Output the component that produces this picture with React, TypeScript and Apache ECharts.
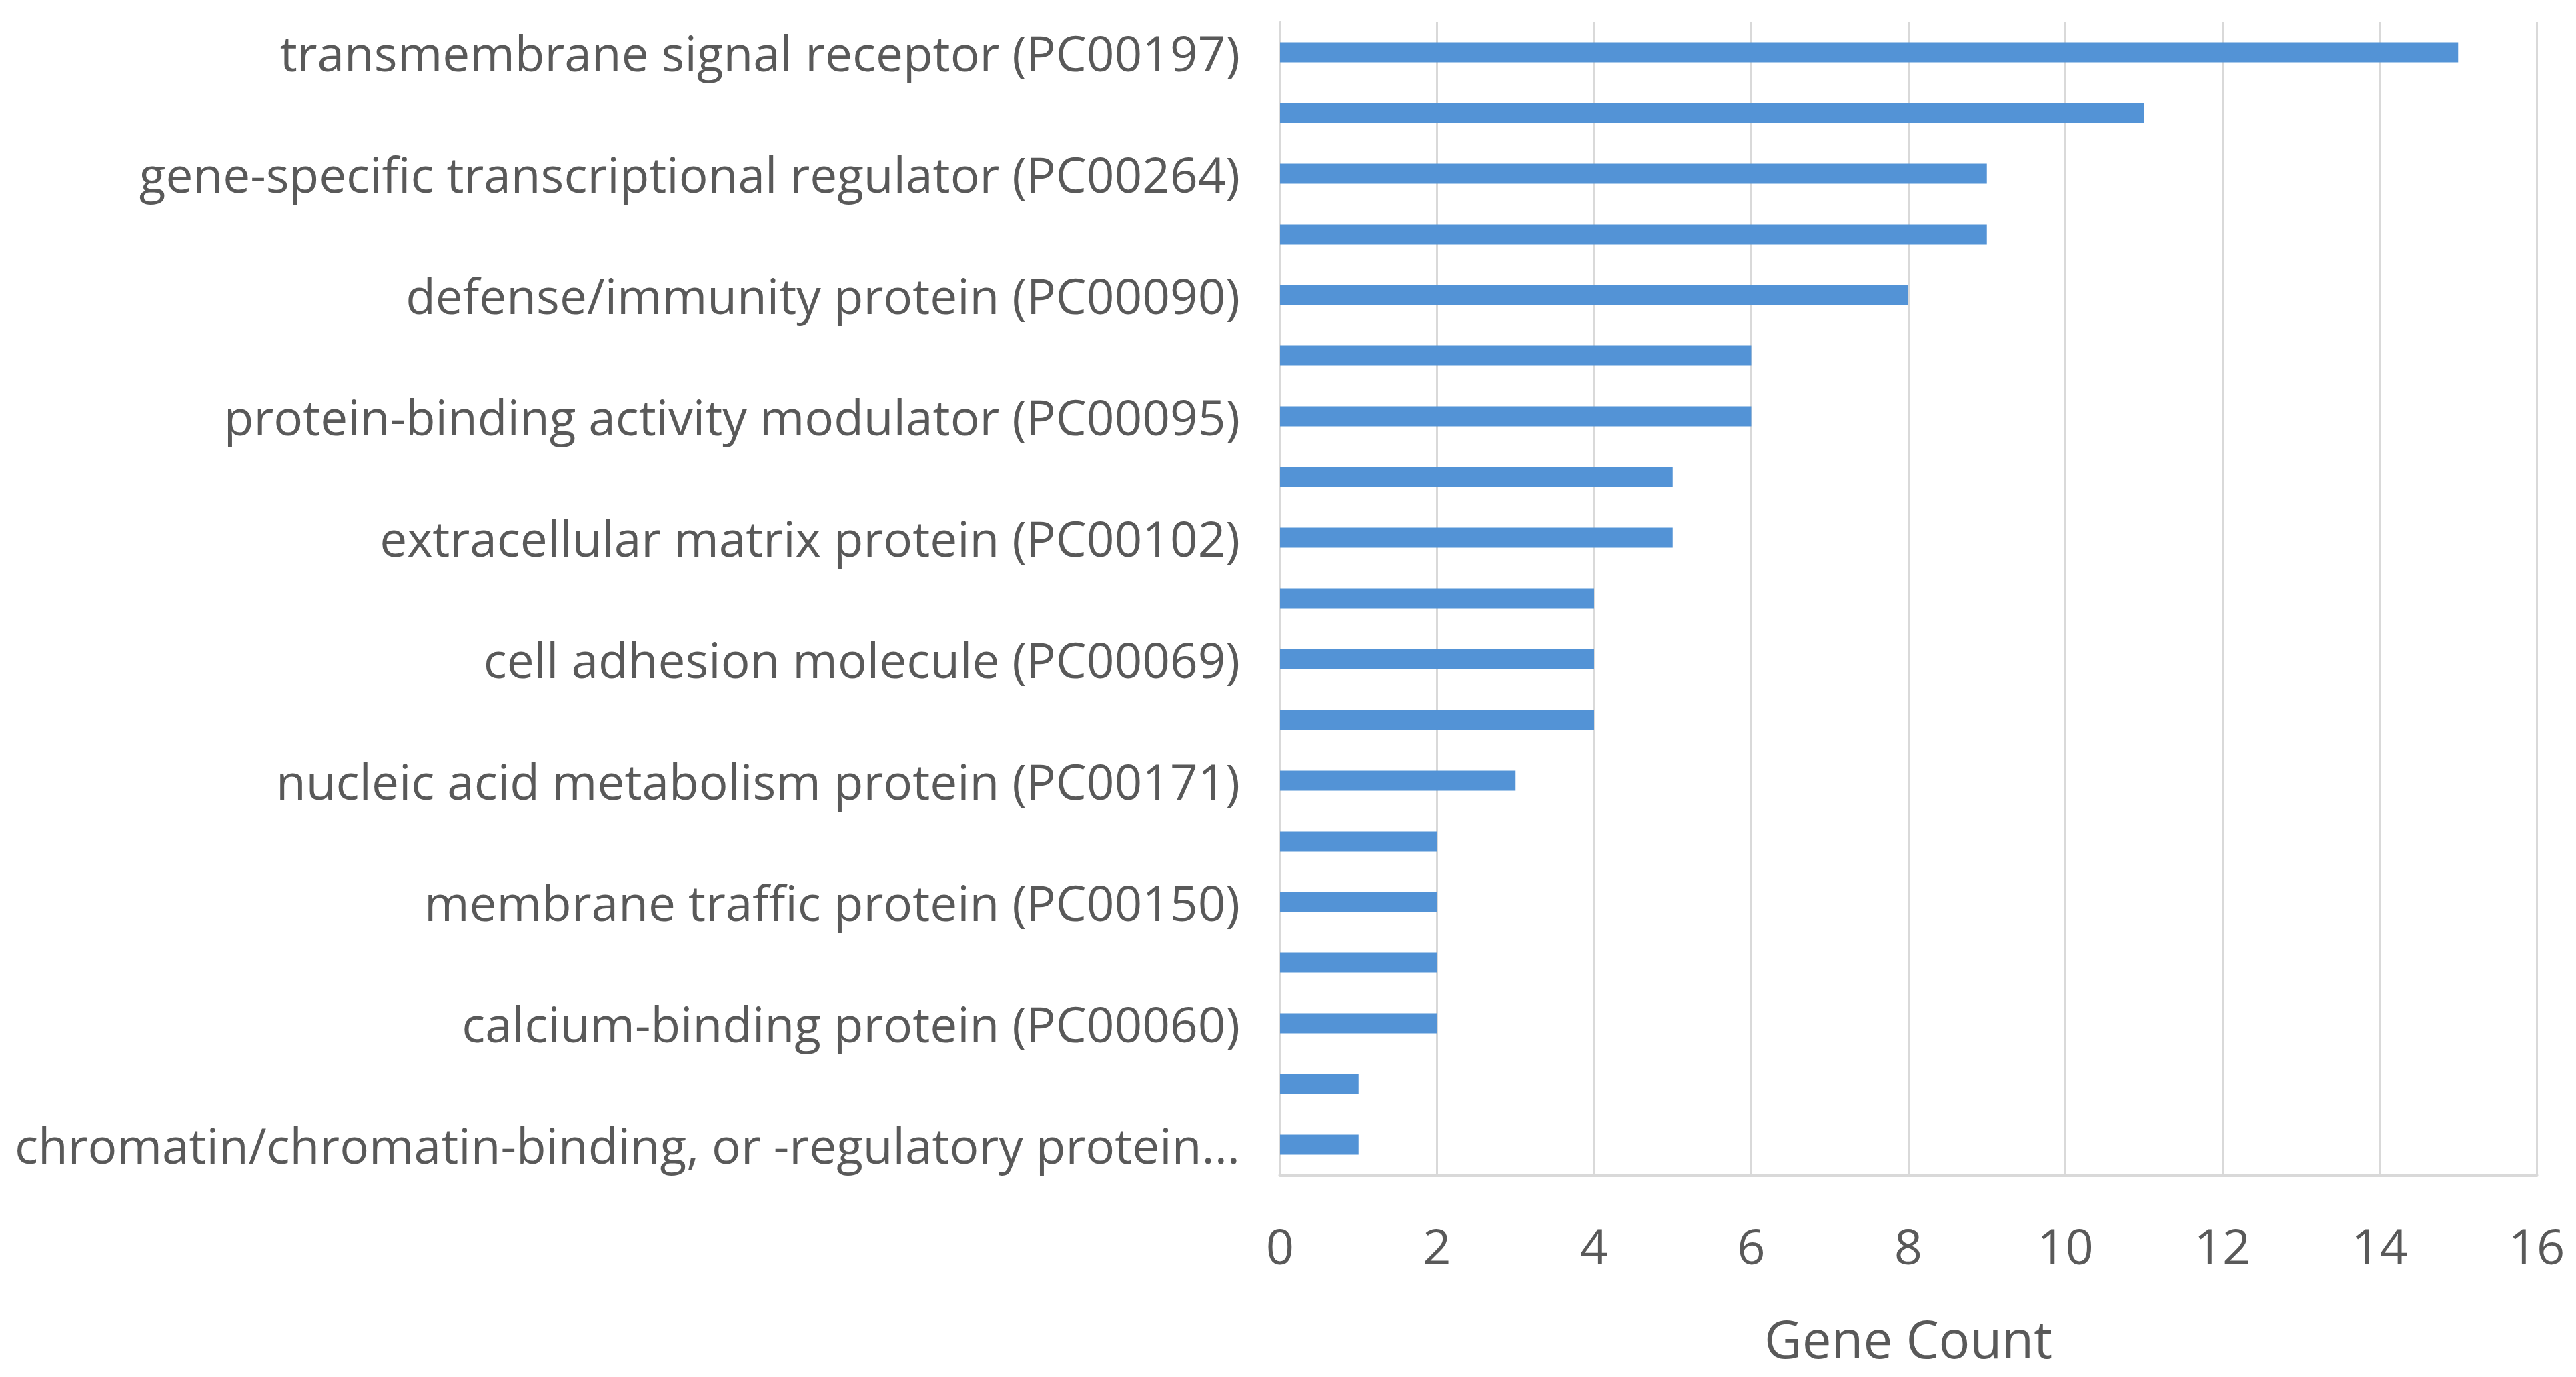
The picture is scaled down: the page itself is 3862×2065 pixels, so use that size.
import React, { useEffect, useRef } from "react";
import * as echarts from "echarts";

const categories: string[] = [
  "transmembrane signal receptor (PC00197)",
  "",
  "gene-specific transcriptional regulator (PC00264)",
  "",
  "defense/immunity protein (PC00090)",
  "",
  "protein-binding activity modulator (PC00095)",
  "",
  "extracellular matrix protein (PC00102)",
  "",
  "cell adhesion molecule (PC00069)",
  "",
  "nucleic acid metabolism protein (PC00171)",
  "",
  "membrane traffic protein (PC00150)",
  "",
  "calcium-binding protein (PC00060)",
  "",
  "chromatin/chromatin-binding, or -regulatory protein...",
];

const geneCounts: number[] = [15, 11, 9, 9, 8, 6, 6, 5, 5, 4, 4, 4, 3, 2, 2, 2, 2, 1, 1];

const xTicks = { min: 0, max: 16, interval: 2 };
const xAxisTitle = "Gene Count";

const FONT = "'Open Sans', sans-serif";
const TEXT_COLOR = "#595959";
const GRID_COLOR = "#d9d9d9";
const BAR_COLOR = "#5393d6";

export default function App() {
  const ref = useRef<HTMLDivElement>(null);

  useEffect(() => {
    if (!ref.current) return;
    const chart = echarts.init(ref.current, null, { renderer: "svg" });
    chart.setOption({
      animation: false,
      backgroundColor: "#ffffff",
      grid: { left: 1919, right: 59, top: 33, bottom: 303, containLabel: false },
      xAxis: {
        type: "value",
        min: xTicks.min,
        max: xTicks.max,
        interval: xTicks.interval,
        name: xAxisTitle,
        nameLocation: "middle",
        nameGap: 200,
        nameTextStyle: { fontFamily: FONT, fontSize: 78, color: TEXT_COLOR, lineHeight: 90 },
        axisLine: { show: true, lineStyle: { color: GRID_COLOR, width: 5 } },
        axisTick: { show: false },
        axisLabel: { fontFamily: FONT, fontSize: 74, color: TEXT_COLOR, margin: 68 },
        splitLine: { show: true, lineStyle: { color: GRID_COLOR, width: 3 } },
      },
      yAxis: {
        type: "category",
        inverse: true,
        data: categories,
        axisLine: { show: true, lineStyle: { color: GRID_COLOR, width: 3 } },
        axisTick: { show: false },
        axisLabel: { interval: 0, fontFamily: FONT, fontSize: 73, color: TEXT_COLOR, margin: 60 },
        splitLine: { show: false },
      },
      series: [
        {
          type: "bar",
          data: geneCounts,
          barWidth: 30,
          itemStyle: { color: BAR_COLOR },
        },
      ],
    });
    return () => chart.dispose();
  }, []);

  return (
    <div
      ref={ref}
      style={{ position: "absolute", left: 0, top: 0, width: 3862, height: 2065 }}
    />
  );
}
